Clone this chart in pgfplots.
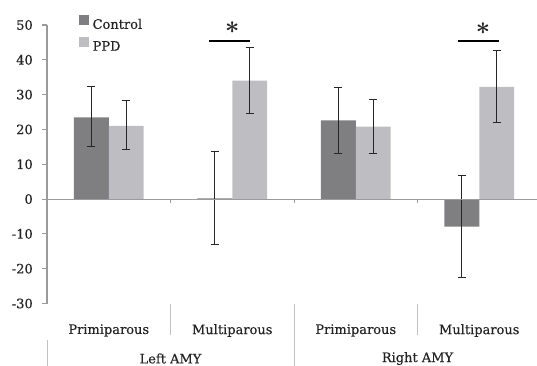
\documentclass[border=0pt]{standalone}
\usepackage{pgfplots}
\pgfplotsset{compat=1.18}
\usepackage{amsmath}
\usepackage{fontspec}
\setmainfont{DejaVu Serif}[FakeBold=0.3]
\definecolor{ctrl}{RGB}{127,127,130}
\definecolor{ppd}{RGB}{190,190,194}
\definecolor{axisgray}{RGB}{155,155,155}
\definecolor{sepgray}{RGB}{195,195,195}
\definecolor{txt}{RGB}{35,35,35}
\begin{document}
\begin{tikzpicture}[x=1pt,y=1pt]
\useasboundingbox (0,0) rectangle (537,365);
\begin{axis}[
 at={(47pt,61.5pt)}, anchor=south west,
 scale only axis, width=494pt, height=278.5pt,
 xmin=-0.5, xmax=3.5, ymin=-30, ymax=50,
 clip=false,
 ybar=0pt, bar width=0.283,
 axis y line*=left, axis x line*=bottom,
 x axis line style={draw=none},
 y axis line style={axisgray, line width=1.1pt},
 ytick={-30,-20,...,50},
 yticklabels={-30,-20,-10,0,10,20,30,40,50},
 y tick style={axisgray, line width=1.1pt},
 tick align=outside, major tick length=5pt,
 xtick={0,1,2,3},
 xticklabels={Primiparous,Multiparous,Primiparous,Multiparous},
 x tick style={draw=none},
 tick label style={font=\fontsize{13}{15}\selectfont, text=txt},
 yticklabel style={anchor=east, xshift=-5.7pt},
 xticklabel style={anchor=center, yshift=-22pt},
 extra x ticks={0.5,2.5},
 extra x tick labels={Left AMY,Right AMY},
 extra x tick style={xticklabel style={yshift=-28pt}, tick style={draw=none}},
 legend style={at={(axis description cs:0,1)}, anchor=north west, xshift=32pt, yshift=10pt,
   draw=none, fill=none, inner sep=0pt, row sep=7pt, column sep=4pt,
   font=\fontsize{13}{15}\selectfont, text=txt, nodes={inner sep=0pt}},
 legend cell align=left,
 legend image code/.code={\fill[#1] (0pt,0pt) rectangle (9.4pt,9.4pt);},
 error bars/error bar style={line width=1pt, black!85},
 error bars/error mark options={rotate=90, mark size=4pt, line width=1pt, black!85},
]
\addplot[fill=ctrl, draw=none, error bars/.cd, y dir=both, y explicit]
 table[x=x, y=y, y error plus=ep, y error minus=em] {
x y ep em
0 23.5 8.7 8.5
1 0.2 13.4 13.2
2 22.6 9.5 9.5
3 -7.9 14.7 14.6
};
\addplot[fill=ppd, draw=none, error bars/.cd, y dir=both, y explicit]
 table[x=x, y=y, y error plus=ep, y error minus=em] {
x y ep em
0 21.0 7.3 6.9
1 34.0 9.4 9.5
2 20.8 7.8 7.7
3 32.2 10.4 10.3
};
\legend{Control,PPD}
\draw[axisgray, line width=1.1pt] (axis cs:-0.5,0) -- (axis cs:3.5,0);
\draw[axisgray, line width=1pt] (axis cs:0.5,0) -- (axis cs:0.5,-1.2);
\draw[axisgray, line width=1pt] (axis cs:1.5,0) -- (axis cs:1.5,-1.2);
\draw[axisgray, line width=1pt] (axis cs:2.5,0) -- (axis cs:2.5,-1.2);
\draw[sepgray, line width=0.8pt] (axis cs:0.5,-30.1) -- (axis cs:0.5,-39);
\draw[sepgray, line width=0.8pt] (axis cs:2.5,-30.1) -- (axis cs:2.5,-39);
\draw[sepgray, line width=0.8pt] (axis cs:1.5,-30.1) -- (axis cs:1.5,-50);
\draw[sepgray, line width=0.8pt] (axis cs:-0.5,-40.4) -- (axis cs:-0.5,-50);
\draw[black, line width=2pt] (axis cs:0.81,45.5) -- (axis cs:1.14,45.5);
\draw[black, line width=2pt] (axis cs:2.83,45.3) -- (axis cs:3.16,45.3);
\node[inner sep=0pt, text=txt] at (axis cs:1.0,49.2) {\fontsize{24}{24}\selectfont$\boldsymbol{\ast}$};
\node[inner sep=0pt, text=txt] at (axis cs:3.03,49.0) {\fontsize{24}{24}\selectfont$\boldsymbol{\ast}$};
\end{axis}
\end{tikzpicture}
\end{document}
